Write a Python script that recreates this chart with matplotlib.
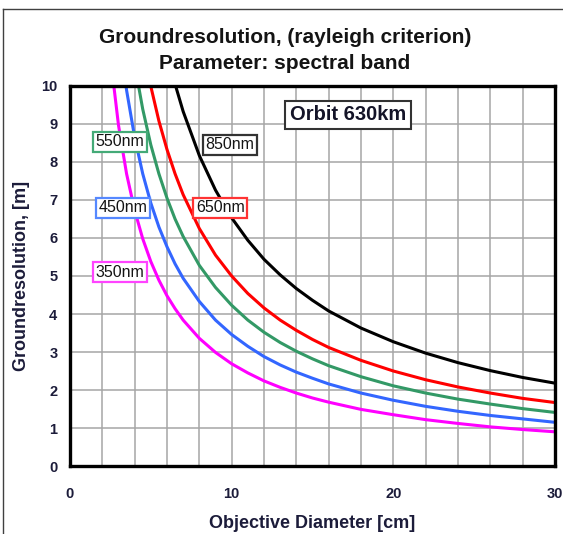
import numpy as np
import matplotlib
matplotlib.use('Agg')
import matplotlib.pyplot as plt
from matplotlib.lines import Line2D

plt.rcParams['font.family'] = ['Liberation Sans', 'DejaVu Sans']

# objective diameter [cm]
diameter = [2.5, 3, 3.5, 4, 4.5, 5, 5.5, 6, 6.5, 7, 8, 9, 10, 11, 12, 13, 14,
            15, 16, 18, 20, 22, 24, 26, 28, 30]

# ground resolution [m] per spectral band
res_350 = [10.76, 8.97, 7.69, 6.73, 5.98, 5.38, 4.89, 4.48, 4.14, 3.84, 3.36, 2.99,
           2.69, 2.45, 2.24, 2.07, 1.92, 1.79, 1.68, 1.49, 1.35, 1.22, 1.12, 1.03,
           0.96, 0.90]
res_450 = [13.84, 11.53, 9.89, 8.65, 7.69, 6.92, 6.29, 5.77, 5.32, 4.94, 4.33, 3.84,
           3.46, 3.15, 2.88, 2.66, 2.47, 2.31, 2.16, 1.92, 1.73, 1.57, 1.44, 1.33,
           1.24, 1.15]
res_550 = [16.90, 14.09, 12.08, 10.57, 9.39, 8.45, 7.69, 7.05, 6.50, 6.04, 5.28, 4.70,
           4.23, 3.84, 3.52, 3.25, 3.02, 2.82, 2.64, 2.35, 2.11, 1.92, 1.76, 1.63,
           1.51, 1.41]
res_650 = [19.98, 16.65, 14.27, 12.49, 11.10, 9.99, 9.08, 8.33, 7.69, 7.14, 6.25, 5.55,
           5.00, 4.54, 4.16, 3.84, 3.57, 3.33, 3.12, 2.78, 2.50, 2.27, 2.08, 1.92,
           1.78, 1.67]
res_850 = [26.13, 21.78, 18.67, 16.33, 14.52, 13.07, 11.88, 10.89, 10.05, 9.33, 8.17,
           7.26, 6.53, 5.94, 5.44, 5.03, 4.67, 4.36, 4.08, 3.63, 3.27, 2.97, 2.72,
           2.51, 2.33, 2.18]

band_names = ['350nm', '450nm', '550nm', '650nm', '850nm']

fig = plt.figure(figsize=(5.63, 5.34), dpi=100)
ax = fig.add_axes([0.1243, 0.1273, 0.8615, 0.7117])

series = [res_350, res_450, res_550, res_650, res_850]
colors = ['#ff00ff', '#3366ff', '#339966', '#ff0000', '#000000']
for vals, c in zip(series, colors):
    ax.plot(diameter, vals, color=c, lw=2.2, zorder=3)

ax.set_xlim(0, 30)
ax.set_ylim(0, 10)
ax.set_xticks([0, 10, 20, 30])
ax.set_xticks(np.arange(0, 31, 2), minor=True)
ax.set_yticks(range(0, 11))
ax.grid(True, which='both', color='#a6a6a6', lw=1.1, zorder=0)
ax.tick_params(which='both', length=0)
ax.tick_params(axis='x', pad=15)
ax.tick_params(axis='y', pad=9)
txtc = '#1c1c3a'
for lab in ax.get_xticklabels() + ax.get_yticklabels():
    lab.set_fontweight('bold')
    lab.set_fontsize(10.5)
    lab.set_color(txtc)
for s in ax.spines.values():
    s.set_linewidth(2.4)
    s.set_color('black')
    s.set_zorder(5)

ax.set_xlabel('Objective Diameter [cm]', fontsize=13,
              fontweight='bold', color=txtc, labelpad=10)
ax.set_ylabel('Groundresolution, [m]', fontsize=13, fontweight='bold',
              color=txtc, labelpad=8)

fig.text(0.506, 0.930, 'Groundresolution, (rayleigh criterion)', ha='center',
         va='center', fontsize=15, fontweight='bold', color='#141414')
fig.text(0.506, 0.882, 'Parameter: spectral band', ha='center',
         va='center', fontsize=15, fontweight='bold', color='#141414')

# band labels
label_pos = [(3.1, 5.1), (3.3, 6.8), (3.1, 8.53), (9.3, 6.8), (9.9, 8.45)]
edge_cols = ['#ff44ff', '#5588ff', '#44aa77', '#ff3333', '#333333']
for name, (xx, yy), ec in zip(band_names, label_pos, edge_cols):
    ax.text(xx, yy, name, ha='center', va='center', fontsize=11.5,
            color='#141414', zorder=6,
            bbox=dict(boxstyle='square,pad=0.16', fc='white', ec=ec, lw=1.6))

ax.text(17.2, 9.24, 'Orbit 630km', ha='center', va='center', fontsize=14.5,
        fontweight='bold', color='#141428', zorder=6,
        bbox=dict(boxstyle='square,pad=0.24', fc='white', ec='#333333', lw=1.5))

# outer frame
fig.add_artist(Line2D([3 / 563, 3 / 563], [0, 1 - 9 / 534], color='#404040', lw=1))
fig.add_artist(Line2D([3 / 563, 1], [1 - 9 / 534, 1 - 9 / 534], color='#404040', lw=1))

fig.savefig('out.png', dpi=100)
